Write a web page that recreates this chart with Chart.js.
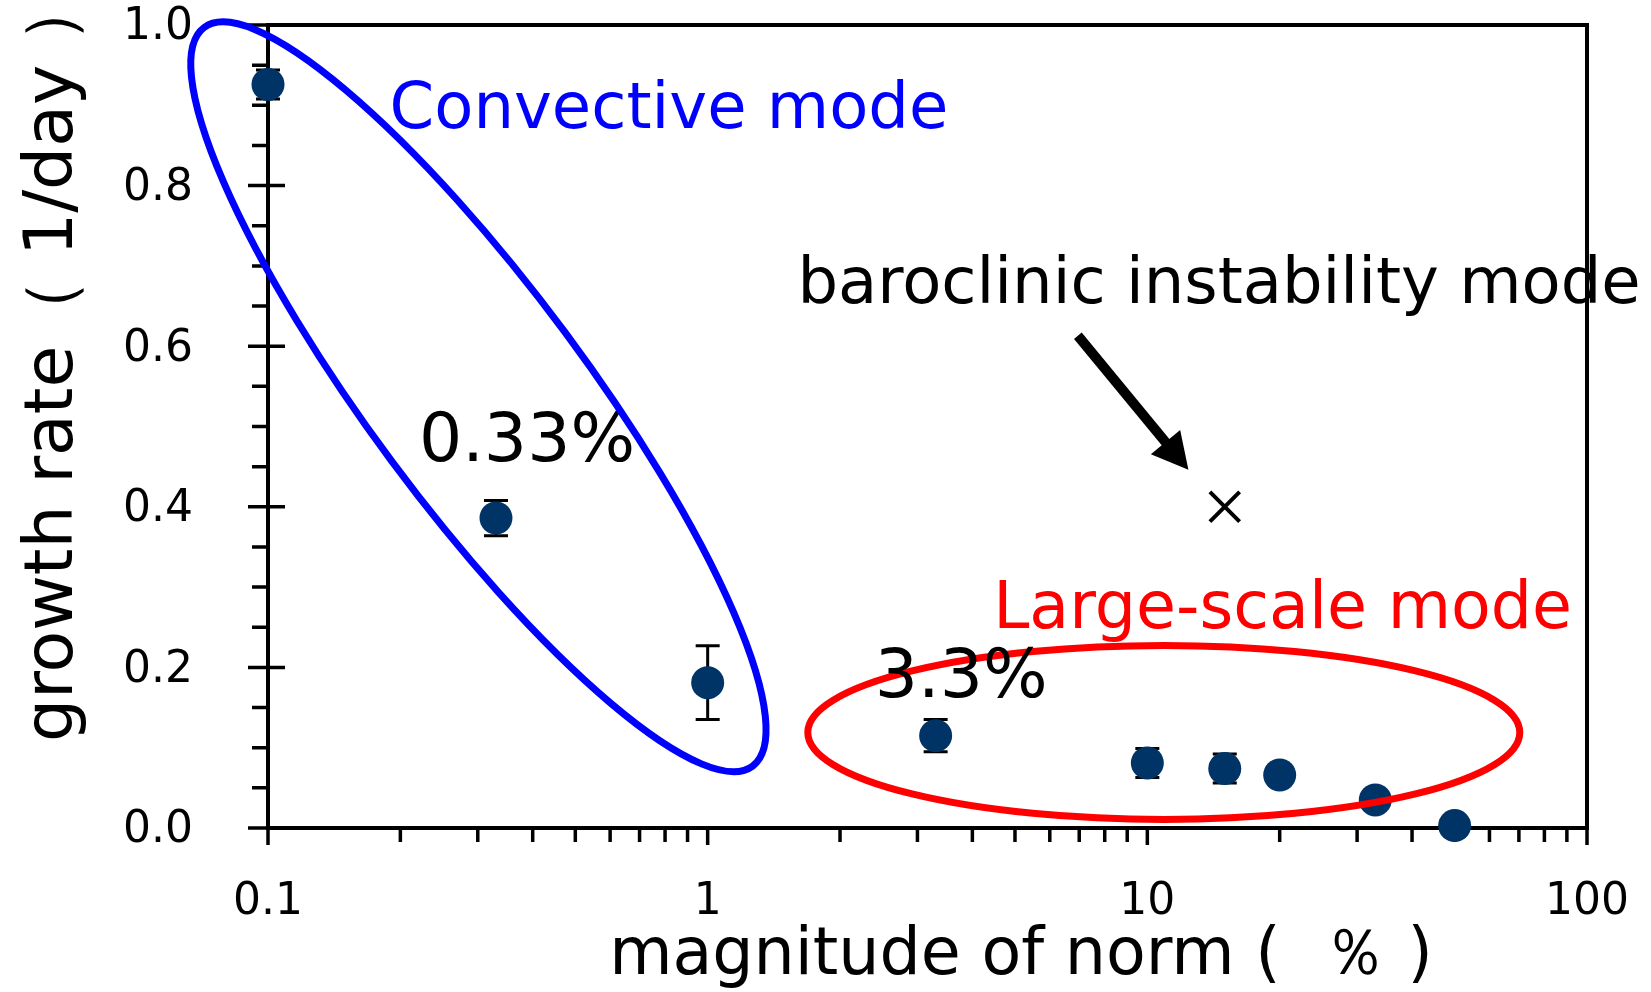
<!DOCTYPE html>
<html>
<head>
<meta charset="utf-8">
<script src="https://cdn.jsdelivr.net/npm/chart.js@4.4.1/dist/chart.umd.min.js"></script>
<style>
  html, body { margin: 0; padding: 0; background: #fff; }
</style>
</head>
<body>
<canvas id="myChart" width="1651" height="992"></canvas>
<script>
// values
const normPct    = [0.1,   0.33,  1,     3.3,   10,    15,    20,    33,    50];
const growthRate = [0.926, 0.386, 0.181, 0.115, 0.081, 0.074, 0.066, 0.035, 0.003];
const growthErr  = [0.018, 0.022, 0.046, 0.02,  0.018, 0.018, 0.01,  0.01,  0];
const baroNorm = [15];
const baroRate = [0.40];

const xTickValues = [0.1, 1, 10, 100];
const xTickLabels = ['0.1', '1', '10', '100'];
const xMinorValues = [0.2, 0.3, 0.4, 0.5, 0.6, 0.7, 0.8, 0.9, 2, 3, 4, 5, 6, 7, 8, 9, 20, 30, 40, 50, 60, 70, 80, 90];
const yTickValues = [0, 0.2, 0.4, 0.6, 0.8, 1.0];
const yTickLabels = ['0.0', '0.2', '0.4', '0.6', '0.8', '1.0'];
const yMinorValues = [0.05, 0.1, 0.15, 0.25, 0.3, 0.35, 0.45, 0.5, 0.55, 0.65, 0.7, 0.75, 0.85, 0.9, 0.95];

const FONT = "'DejaVu Sans', Verdana, sans-serif";

// text notes placed in data coordinates (left edge, baseline)
const notes = [
    { text: 'Convective mode', x: 0.189, y: 0.872, color: '#0000ff', size: 64 },
    { text: 'baroclinic instability mode', x: 1.6, y: 0.654, color: '#000', size: 64 },
    { text: '0.33%', x: 0.2205, y: 0.457, color: '#000', size: 68 },
    { text: '3.3%', x: 2.4, y: 0.163, color: '#000', size: 68 },
    { text: 'Large-scale mode', x: 4.46, y: 0.249, color: '#ff0000', size: 65 }
];

// ovals round the two groups: centre in data coords, radii in px
const ovals = [
    { x: 10.9, y: 0.119, rx: 356, ry: 87, rot: 0, color: '#ff0000' },
    { x: 0.301, y: 0.537, rx: 460, ry: 108, rot: 53.4, color: '#0000ff' }
];

const arrow = { from: [6.95, 0.613], to: [12.4, 0.446] };

function px(chart, x, y) {
    return [chart.scales.x.getPixelForValue(x), chart.scales.y.getPixelForValue(y)];
}

// keep the tick labels from pushing the plot area around
function noPad(s) {
    s.paddingTop = 0; s.paddingBottom = 0; s.paddingLeft = 0; s.paddingRight = 0;
}

const decor = {
    id: 'decor',
    beforeDatasetsDraw(chart) {
        const c = chart.ctx;
        const a = chart.chartArea;
        const sx = chart.scales.x, sy = chart.scales.y;
        c.save();
        c.strokeStyle = '#000';
        c.lineWidth = 4;
        c.strokeRect(a.left, a.top, a.right - a.left, a.bottom - a.top);

        c.lineWidth = 3.5;
        c.beginPath();
        xTickValues.forEach(v => {
            const p = sx.getPixelForValue(v);
            c.moveTo(p, a.bottom); c.lineTo(p, a.bottom + 17);
        });
        xMinorValues.forEach(v => {
            const p = sx.getPixelForValue(v);
            c.moveTo(p, a.bottom); c.lineTo(p, a.bottom + 14);
        });
        yTickValues.forEach(v => {
            const p = sy.getPixelForValue(v);
            c.moveTo(a.left - 20, p); c.lineTo(a.left + 17, p);
        });
        yMinorValues.forEach(v => {
            const p = sy.getPixelForValue(v);
            c.moveTo(a.left - 16, p); c.lineTo(a.left, p);
        });
        c.stroke();

        // error bars
        c.lineWidth = 3;
        c.beginPath();
        normPct.forEach((v, i) => {
            if (!growthErr[i]) return;
            const p = sx.getPixelForValue(v);
            const t = sy.getPixelForValue(growthRate[i] + growthErr[i]);
            const b = sy.getPixelForValue(growthRate[i] - growthErr[i]);
            c.moveTo(p, t); c.lineTo(p, b);
            c.moveTo(p - 12, t); c.lineTo(p + 12, t);
            c.moveTo(p - 12, b); c.lineTo(p + 12, b);
        });
        c.stroke();
        c.restore();
    },
    afterDraw(chart) {
        const c = chart.ctx;
        c.save();

        // axis titles
        c.fillStyle = '#000';
        c.font = `65px ${FONT}`;
        c.textBaseline = 'alphabetic';
        c.textAlign = 'left';
        c.fillText('magnitude of norm (  ％ )', px(chart, 0.597, 0)[0], chart.height - 18);
        c.save();
        c.translate(72, px(chart, 0.1, 0.107)[1]);
        c.rotate(-Math.PI / 2);
        c.font = `68px ${FONT}`;
        c.fillText('growth rate（ 1/day ）', 0, 0);
        c.restore();

        const drawOval = o => {
            const [cx, cy] = px(chart, o.x, o.y);
            c.beginPath();
            c.ellipse(cx, cy, o.rx, o.ry, o.rot * Math.PI / 180, 0, Math.PI * 2);
            c.strokeStyle = o.color;
            c.lineWidth = 7;
            c.stroke();
        };
        drawOval(ovals[0]);

        notes.forEach(n => {
            const [x, y] = px(chart, n.x, n.y);
            c.font = `${n.size}px ${FONT}`;
            c.fillStyle = n.color;
            c.fillText(n.text, x, y);
        });

        drawOval(ovals[1]);

        // arrow to the baroclinic point
        const [x0, y0] = px(chart, ...arrow.from);
        const [x1, y1] = px(chart, ...arrow.to);
        const ang = Math.atan2(y1 - y0, x1 - x0);
        const headLen = 36, headHalf = 19;
        const bx = x1 - headLen * Math.cos(ang), by = y1 - headLen * Math.sin(ang);
        c.strokeStyle = '#000';
        c.lineWidth = 10;
        c.beginPath();
        c.moveTo(x0, y0); c.lineTo(bx + 2 * Math.cos(ang), by + 2 * Math.sin(ang));
        c.stroke();
        c.fillStyle = '#000';
        c.beginPath();
        c.moveTo(x1, y1);
        c.lineTo(bx + headHalf * Math.sin(ang), by - headHalf * Math.cos(ang));
        c.lineTo(bx - headHalf * Math.sin(ang), by + headHalf * Math.cos(ang));
        c.closePath();
        c.fill();
        c.restore();
    }
};

const ctx = document.getElementById('myChart').getContext('2d');
const myChart = new Chart(ctx, {
    type: 'scatter',
    data: {
        datasets: [{
            data: normPct.map((v, i) => ({ x: v, y: growthRate[i] })),
            pointRadius: 16.5,
            pointBackgroundColor: '#003366',
            pointBorderWidth: 0,
            clip: false
        }, {
            data: baroNorm.map((v, i) => ({ x: v, y: baroRate[i] })),
            pointStyle: 'crossRot',
            pointRadius: 21,
            pointBorderColor: '#000',
            pointBorderWidth: 4,
            clip: false
        }]
    },
    options: {
        responsive: false,
        animation: false,
        devicePixelRatio: 1,
        layout: { padding: { top: 25, right: 64, left: 0, bottom: 0 } },
        plugins: { legend: { display: false }, tooltip: { enabled: false } },
        scales: {
            x: {
                type: 'logarithmic',
                min: 0.1,
                max: 100,
                afterBuildTicks: s => { s.ticks = xTickValues.map(v => ({ value: v })); },
                afterFit: s => { s.height = 164; noPad(s); },
                grid: { display: false, drawTicks: false },
                border: { display: false },
                ticks: {
                    callback: (v, i) => xTickLabels[i],
                    font: { family: FONT, size: 44 },
                    color: '#000',
                    padding: 48,
                    maxRotation: 0,
                    autoSkip: false
                }
            },
            y: {
                min: 0,
                max: 1,
                afterBuildTicks: s => { s.ticks = yTickValues.map(v => ({ value: v })); },
                afterFit: s => { s.width = 268; noPad(s); },
                grid: { display: false, drawTicks: false },
                border: { display: false },
                ticks: {
                    callback: (v, i) => yTickLabels[i],
                    font: { family: FONT, size: 44 },
                    color: '#000',
                    padding: 75,
                    labelOffset: 3
                }
            }
        }
    },
    plugins: [decor]
});
</script>
</body>
</html>
